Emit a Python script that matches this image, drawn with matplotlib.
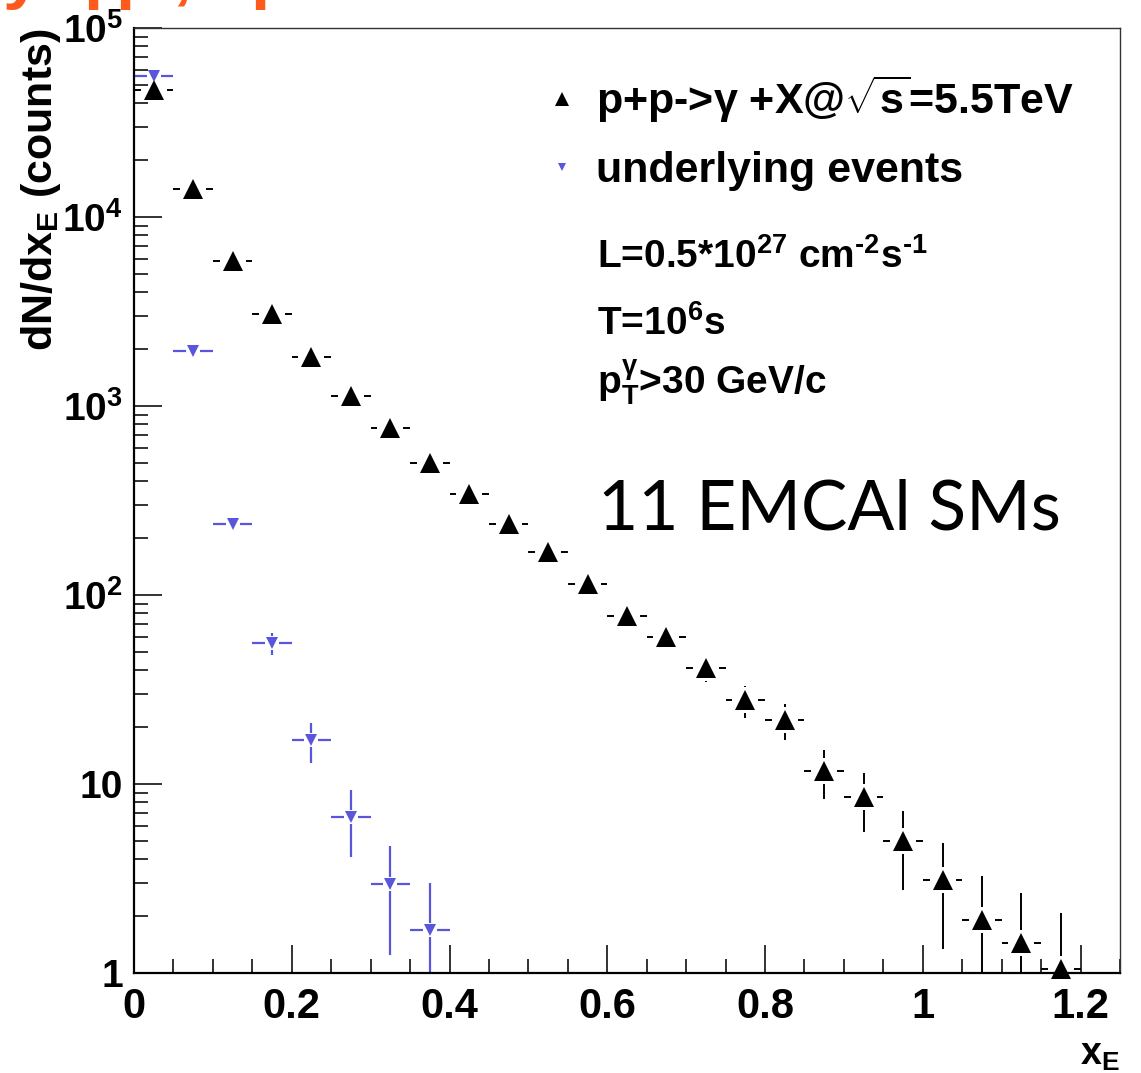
"""
x_E distribution of gamma-triggered pairs vs. underlying events (log scale).
"""

import numpy as np
import matplotlib
matplotlib.use('Agg')
import matplotlib.pyplot as plt
from matplotlib.collections import LineCollection
from matplotlib.ticker import FixedLocator, LogLocator, MultipleLocator, NullFormatter

# ---------------------------------------------------------------------------
# Data
# ---------------------------------------------------------------------------

BIN_WIDTH = 0.05

xe_signal = [0.025, 0.075, 0.125, 0.175, 0.225, 0.275, 0.325, 0.375,
             0.425, 0.475, 0.525, 0.575, 0.625, 0.675, 0.725, 0.775,
             0.825, 0.875, 0.925, 0.975, 1.025, 1.075, 1.125, 1.175]
counts_signal = [47000, 14000, 5850, 3050, 1810, 1125, 762, 498,
                 341, 237, 168, 115, 77, 60, 41, 27.7,
                 21.7, 11.7, 8.5, 5.0, 3.1, 1.9, 1.45, 1.05]

xe_ue = [0.025, 0.075, 0.125, 0.175, 0.225, 0.275, 0.325, 0.375]
counts_ue = [55500, 1946, 237, 55.5, 17.0, 6.7, 2.97, 1.68]

x_ticks = [0, 0.2, 0.4, 0.6, 0.8, 1.0, 1.2]
x_ticklabels = ['0', '0.2', '0.4', '0.6', '0.8', '1', '1.2']
y_ticks = [1, 10, 1e2, 1e3, 1e4, 1e5]
y_ticklabels = ['1', '10', '$10^{2}$', '$10^{3}$', '$10^{4}$', '$10^{5}$']

label_signal = r'p+p->$\gamma$ +X@$\sqrt{s}$=5.5TeV'
label_ue = 'underlying events'
info_lines = ['L=0.5*10$^{27}$ cm$^{\u20102}$s$^{\u20101}$',
              r'T=10$^{6}$s',
              r'p$_{T}^{\gamma}$>30 GeV/c']

BLACK = '#000000'
BLUE = '#5a56dc'
ORANGE = '#ff5a1e'

# ---------------------------------------------------------------------------
# Style
# ---------------------------------------------------------------------------

plt.rcParams['font.family'] = ['Liberation Sans', 'DejaVu Sans']
plt.rcParams['font.weight'] = 'bold'
plt.rcParams['mathtext.fontset'] = 'custom'
plt.rcParams['mathtext.rm'] = 'Liberation Sans:bold'
plt.rcParams['mathtext.it'] = 'Liberation Sans:bold'
plt.rcParams['mathtext.bf'] = 'Liberation Sans:bold'
plt.rcParams['mathtext.sf'] = 'Liberation Sans:bold'


def draw_errors(ax, x, y, color, gap_px, lw):
    """Poisson error bars with a gap around the marker (ROOT style)."""
    x = np.asarray(x, float)
    y = np.asarray(y, float)
    err = np.sqrt(y)
    tr = ax.transData
    inv = tr.inverted()
    segs = []
    for xi, yi, ei in zip(x, y, err):
        cx, cy = tr.transform((xi, yi))
        xl = tr.transform((xi - BIN_WIDTH / 2, yi))[0]
        xr = tr.transform((xi + BIN_WIDTH / 2, yi))[0]
        ylo = tr.transform((xi, max(yi - ei, 1e-3)))[1]
        yhi = tr.transform((xi, yi + ei))[1]
        pieces = []
        if cx - gap_px > xl:
            pieces.append([(xl, cy), (cx - gap_px, cy)])
        if xr > cx + gap_px:
            pieces.append([(cx + gap_px, cy), (xr, cy)])
        if yhi > cy + gap_px:
            pieces.append([(cx, cy + gap_px), (cx, yhi)])
        if cy - gap_px > ylo:
            pieces.append([(cx, ylo), (cx, cy - gap_px)])
        for p in pieces:
            segs.append(inv.transform(p))
    lc = LineCollection(segs, colors=color, linewidths=lw, zorder=2)
    ax.add_collection(lc)


# ---------------------------------------------------------------------------
# Figure
# ---------------------------------------------------------------------------

fig = plt.figure(figsize=(11.41, 10.73), dpi=100)
W, H = 1141, 1073
ax = fig.add_axes([134 / W, 1 - 973 / H, (1120 - 134) / W, (973 - 28) / H])

ax.set_yscale('log')
ax.set_xlim(0, 1.25)
ax.set_ylim(1, 1e5)

draw_errors(ax, xe_signal, counts_signal, BLACK, gap_px=13, lw=1.4)
draw_errors(ax, xe_ue, counts_ue, BLUE, gap_px=7, lw=1.6)

h_sig, = ax.plot(xe_signal, counts_signal, linestyle='none', marker='^',
                 markersize=14, color=BLACK, markeredgewidth=0, zorder=3,
                 clip_on=False)
h_ue, = ax.plot(xe_ue, counts_ue, linestyle='none', marker='v',
                markersize=8, color=BLUE, markeredgewidth=0, zorder=4)

# axes
ax.xaxis.set_major_locator(FixedLocator(x_ticks))
ax.xaxis.set_minor_locator(MultipleLocator(0.05))
ax.set_xticklabels(x_ticklabels)
ax.yaxis.set_major_locator(FixedLocator(y_ticks))
ax.yaxis.set_minor_locator(LogLocator(base=10, subs=np.arange(2, 10)))
ax.yaxis.set_minor_formatter(NullFormatter())
ax.set_yticklabels(y_ticklabels)

ax.tick_params(which='both', direction='in', top=False, right=False,
               width=1.3, color='#222222')
ax.tick_params(which='major', length=20)
ax.tick_params(which='minor', length=10)
ax.tick_params(axis='x', labelsize=30, pad=10)
ax.tick_params(axis='y', labelsize=28, pad=8)
for lbl in ax.get_xticklabels() + ax.get_yticklabels():
    lbl.set_fontweight('bold')

for side in ('left', 'bottom'):
    ax.spines[side].set_linewidth(1.6)
for side in ('top', 'right'):
    ax.spines[side].set_linewidth(1.0)
    ax.spines[side].set_color('#333333')

# axis titles
fig.text(41 / W, 1 - 28 / H, r'dN/dx$_{E}$ (counts)', rotation=90,
         ha='center', va='top', fontsize=31, fontweight='bold')
fig.text(1120 / W, 1 - 1037 / H, r'x$_{E}$', ha='right', va='top',
         fontsize=27, fontweight='bold')

# legend
leg = ax.legend([h_sig, h_ue], [label_signal, label_ue],
                loc='upper left', bbox_to_anchor=(0.412, 0.952),
                frameon=False, fontsize=31, handlelength=1.0,
                handletextpad=0.3, labelspacing=0.6, markerscale=0.72,
                borderaxespad=0, borderpad=0)
for t in leg.get_texts():
    t.set_fontweight('bold')

for text, yb in zip(info_lines, [0.746, 0.675, 0.613]):
    ax.text(0.4696, yb, text, transform=ax.transAxes, fontsize=28,
            fontweight='bold', va='baseline', ha='left')

ax.text(0.4706, 0.469, '11 EMCAl SMs', transform=ax.transAxes,
        fontsize=50, fontfamily='Lato', fontweight='normal',
        va='baseline', ha='left')

# slide title remnants cut at the top edge
for ch, xp in zip(['y', 'p', 'p', ',', 'p'], [2, 83, 115, 172, 250]):
    fig.text(xp / W, 1.004, ch, color=ORANGE, fontsize=50,
             fontweight='bold', va='baseline', ha='left')

fig.savefig('out.png', dpi=100)
plt.close(fig)
